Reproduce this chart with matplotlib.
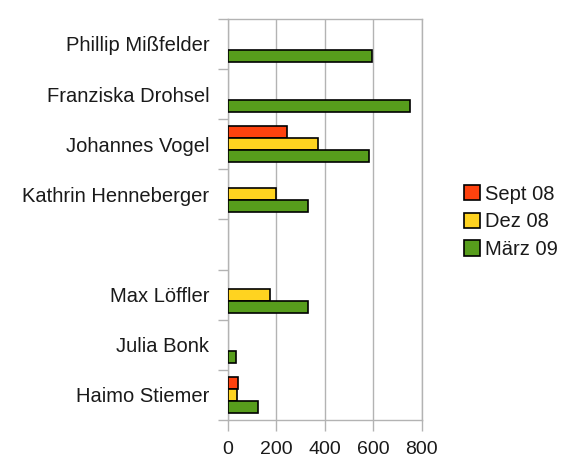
import matplotlib.pyplot as plt
import numpy as np

# Kategorien von oben nach unten (leerer Eintrag = Lücke im Diagramm)
names = ['Phillip Mißfelder', 'Franziska Drohsel', 'Johannes Vogel',
         'Kathrin Henneberger', '', 'Max Löffler', 'Julia Bonk', 'Haimo Stiemer']
series = ['Sept 08', 'Dez 08', 'März 09']
sept_08 = [0, 0, 245, 0, 0, 0, 0, 40]
dez_08 = [0, 0, 370, 197, 0, 172, 0, 36]
maerz_09 = [595, 752, 580, 330, 0, 330, 32, 125]
colors = ['#ff420e', '#ffd320', '#579d1c']

plt.rcParams['font.family'] = ['Liberation Sans', 'DejaVu Sans']
txt_col = '#1a1a1a'

fig = plt.figure(figsize=(5.67, 4.59), dpi=100)
ax = fig.add_axes([0.402, 0.085, 0.342, 0.874])

n = len(names)
# oberste Kategorie oben -> y-Positionen umdrehen
y = np.arange(n)[::-1].astype(float)
h = 0.24
for i, (vals, col, lab) in enumerate(zip([sept_08, dez_08, maerz_09], colors, series)):
    vals = np.array(vals, dtype=float)
    keep = vals > 0  # leere Werte nicht als Strich zeichnen
    offs = (1 - i) * h
    ax.barh(y[keep] + offs, vals[keep], height=h, color=col, edgecolor='black',
            lw=1.2, label=lab, zorder=3)

ax.set_xlim(0, 800)
ax.set_ylim(-0.5, n - 0.5)
ax.set_xticks([0, 200, 400, 600, 800])
ax.xaxis.grid(True, color='#b3b3b3', lw=1, zorder=0)
ax.tick_params(axis='x', length=8, width=1, color='#b3b3b3', direction='out',
               labelsize=14, pad=7, labelcolor=txt_col)

ax.set_yticks(y)
ax.set_yticklabels(names, fontsize=14.5)
ax.tick_params(axis='y', length=0, pad=13.5, labelcolor=txt_col)
ax.set_yticks(np.arange(-0.5, n, 1.0), minor=True)
ax.tick_params(axis='y', which='minor', length=7, width=1, color='#b3b3b3',
               direction='out')

for s in ax.spines.values():
    s.set_color('#b3b3b3')
    s.set_linewidth(1)

leg = fig.legend(loc='upper left', bbox_to_anchor=(0.818, 0.598), frameon=False,
                 fontsize=14.5, handlelength=0.82, handleheight=0.82,
                 handletextpad=0.25, labelspacing=0.44, borderaxespad=0,
                 borderpad=0)
for t in leg.get_texts():
    t.set_color(txt_col)

fig.savefig('out.png', dpi=100)
